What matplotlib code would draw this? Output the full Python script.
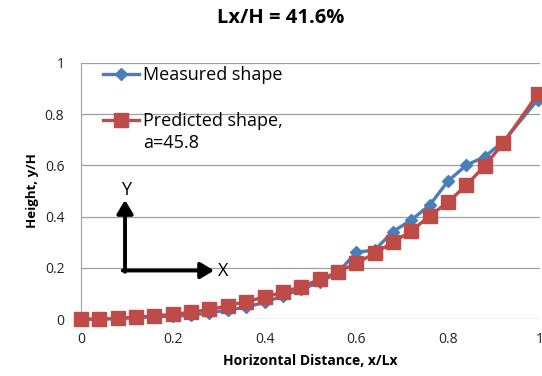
import matplotlib

matplotlib.use("Agg")
import matplotlib.pyplot as plt

# ── data ────────────────────────────────────────────────────────────────

x_pos = [0.00, 0.04, 0.08, 0.12, 0.16, 0.20, 0.24, 0.28, 0.32, 0.36,
         0.40, 0.44, 0.48, 0.52, 0.56, 0.60, 0.64, 0.68, 0.72, 0.76,
         0.80, 0.84, 0.88, 0.92, 0.995]

measured = [0.000, 0.000, 0.003, 0.006, 0.010, 0.012, 0.015, 0.025, 0.036, 0.047,
            0.066, 0.091, 0.117, 0.144, 0.182, 0.261, 0.270, 0.342, 0.387, 0.445,
            0.539, 0.601, 0.634, 0.692, 0.855]

predicted = [0.000, 0.000, 0.004, 0.008, 0.013, 0.019, 0.027, 0.038, 0.052, 0.069,
             0.086, 0.106, 0.127, 0.155, 0.184, 0.218, 0.257, 0.300, 0.344, 0.403,
             0.457, 0.523, 0.599, 0.686, 0.877]

ticks = [0, 0.2, 0.4, 0.6, 0.8, 1]
tick_labels = ["0", "0.2", "0.4", "0.6", "0.8", "1"]

BLUE = "#4a7ebb"
RED = "#be4b48"
FONT = ["Open Sans", "DejaVu Sans"]

plt.rcParams["font.family"] = FONT

fig = plt.figure(figsize=(5.42, 3.76), dpi=100)
ax = fig.add_axes([0.1494, 0.151, 0.8466, 0.682])

ax.plot(x_pos, measured, "-D", color=BLUE, lw=2.4, ms=6.5, mec=BLUE,
        label="Measured shape", clip_on=False, zorder=3)
ax.plot(x_pos, predicted, "-s", color=RED, lw=2.4, ms=9.5, mec=RED,
        label="Predicted shape,", clip_on=False, zorder=4)

ax.set_xlim(0, 1)
ax.set_ylim(0, 1)
ax.set_xticks(ticks)
ax.set_xticklabels(tick_labels)
ax.set_yticks(ticks)
ax.set_yticklabels(tick_labels)
ax.tick_params(length=0, labelsize=10, colors="#222222", pad=12)
ax.tick_params(axis="x", pad=9)
ax.grid(axis="y", color="#a0a0a0", lw=0.9)
ax.set_axisbelow(True)
for side in ("top", "right", "bottom"):
    ax.spines[side].set_visible(False)
ax.spines["left"].set_color("#a0a0a0")

# coordinate-system sketch
arrow = dict(arrowstyle="-|>,head_length=0.5,head_width=0.3", color="black",
             lw=2.8, mutation_scale=16, shrinkA=0, shrinkB=0)
ax.annotate("", xy=(0.096, 0.465), xytext=(0.096, 0.185), arrowprops=arrow)
ax.annotate("", xy=(0.29, 0.19), xytext=(0.091, 0.19), arrowprops=arrow)
ax.text(0.099, 0.47, "Y", fontsize=13, ha="center", va="bottom")
ax.text(0.298, 0.19, "X", fontsize=13, ha="left", va="center")

leg = ax.legend(loc="upper left", bbox_to_anchor=(0.02, 1.035), frameon=False,
                fontsize=13, handlelength=2.0, handletextpad=0.25,
                labelspacing=1.55, borderaxespad=0.3)

# second line of the predicted-shape entry, hung under its label
# (drawn after the legend so the label position is already known)
ax.annotate("a=45.8", xy=(0, 0), xycoords=leg.get_texts()[1],
            xytext=(0, -2.5), textcoords="offset points",
            ha="left", va="top", fontsize=13, zorder=10)

ax.set_xlabel("Horizontal Distance, x/Lx", fontsize=10, fontweight="bold",
              labelpad=5)
ax.set_ylabel("Height, y/H", fontsize=9.5, fontweight="bold", labelpad=4)

fig.text(0.517, 0.952, "Lx/H = 41.6%", fontsize=14.5, fontweight="bold",
         ha="center", va="center")

fig.savefig("out.png", dpi=100)
